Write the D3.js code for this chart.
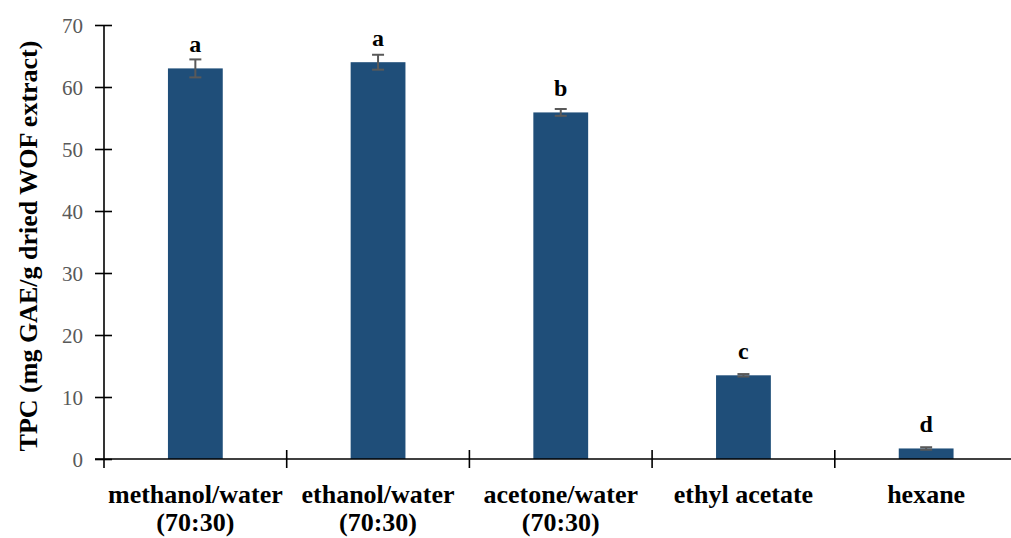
<!DOCTYPE html>
<html>
<head>
<meta charset="utf-8">
<script src="https://cdn.jsdelivr.net/npm/d3@7"></script>
<style>
  html, body { margin: 0; padding: 0; background: #fff; }
  svg { display: block; }
</style>
</head>
<body>
<svg id="chart" width="1011" height="538"></svg>
<script>
// Total phenolic content by extraction solvent
const solvents = ["methanol/water|(70:30)", "ethanol/water|(70:30)", "acetone/water|(70:30)", "ethyl acetate", "hexane"];
const tpc = [63.0, 64.0, 55.9, 13.5, 1.7];
const tpcSd = [1.45, 1.2, 0.55, 0.2, 0.2];
const groups = ["a", "a", "b", "c", "d"];
const yTicks = [0, 10, 20, 30, 40, 50, 60, 70];

(function draw() {
  const svg = d3.select("#chart");
  const plotLeft = 104, plotRight = 1017.5, plotTop = 25, plotBottom = 459;
  const serif = "'Liberation Serif', 'Times New Roman', serif";

  const x = d3.scaleBand().domain(solvents).range([plotLeft, plotRight]).paddingInner(0).paddingOuter(0);
  const y = d3.scaleLinear().domain([0, 70]).range([plotBottom, plotTop]);
  const barW = x.bandwidth() * 0.30;

  // Bars
  svg.append("g").selectAll("rect").data(solvents).join("rect")
    .attr("x", d => x(d) + (x.bandwidth() - barW) / 2)
    .attr("y", (d, i) => y(tpc[i]))
    .attr("width", barW)
    .attr("height", (d, i) => y(0) - y(tpc[i]))
    .attr("fill", "#1F4E79");

  // Error bars
  const err = svg.append("g").attr("stroke", "#595959").attr("stroke-width", 2);
  solvents.forEach((d, i) => {
    const cx = x(d) + x.bandwidth() / 2;
    const y1 = y(tpc[i] + tpcSd[i]), y2 = y(tpc[i] - tpcSd[i]);
    err.append("line").attr("x1", cx).attr("x2", cx).attr("y1", y1).attr("y2", y2);
    err.append("line").attr("x1", cx - 6).attr("x2", cx + 6).attr("y1", y1).attr("y2", y1);
    err.append("line").attr("x1", cx - 6).attr("x2", cx + 6).attr("y1", y2).attr("y2", y2);
  });

  // Significance letters
  svg.append("g").selectAll("text").data(solvents).join("text")
    .attr("x", d => x(d) + x.bandwidth() / 2)
    .attr("y", (d, i) => y(tpc[i]) - 16)
    .attr("text-anchor", "middle")
    .attr("font-family", serif).attr("font-weight", "bold").attr("font-size", 24)
    .attr("fill", "#000")
    .text((d, i) => groups[i]);

  // Y axis
  const yAxis = svg.append("g").attr("transform", `translate(${plotLeft},0)`)
    .call(d3.axisLeft(y).tickValues(yTicks).tickSize(0).tickPadding(0).tickFormat(d3.format("d")));
  yAxis.select(".domain").remove();
  yAxis.selectAll(".tick line").attr("x1", -9).attr("x2", 8).attr("stroke", "#000").attr("stroke-width", 1.6);
  yAxis.selectAll(".tick text")
    .attr("x", -21).attr("dy", "0.34em")
    .attr("font-family", serif).attr("font-size", 21).attr("fill", "#595959");
  svg.append("line").attr("x1", plotLeft).attr("x2", plotLeft).attr("y1", plotTop).attr("y2", plotBottom + 9)
    .attr("stroke", "#000").attr("stroke-width", 1.6);

  // X axis
  const xAxis = svg.append("g").attr("transform", `translate(0,${plotBottom})`)
    .call(d3.axisBottom(x).tickSize(0).tickFormat(""));
  xAxis.select(".domain").remove();
  svg.append("line").attr("x1", plotLeft - 9).attr("x2", plotRight).attr("y1", plotBottom).attr("y2", plotBottom)
    .attr("stroke", "#000").attr("stroke-width", 1.6);
  svg.append("g").selectAll("line").data(solvents.slice(1)).join("line")
    .attr("x1", d => x(d)).attr("x2", d => x(d))
    .attr("y1", plotBottom - 9).attr("y2", plotBottom + 9)
    .attr("stroke", "#000").attr("stroke-width", 1.6);

  // Category labels (two lines where the ratio is given)
  const lab = svg.append("g").selectAll("text").data(solvents).join("text")
    .attr("text-anchor", "middle")
    .attr("font-family", serif).attr("font-weight", "bold").attr("font-size", 26)
    .attr("fill", "#000");
  lab.each(function(d) {
    const parts = d.split("|");
    const cx = x(d) + x.bandwidth() / 2;
    parts.forEach((p, j) => {
      d3.select(this).append("tspan").attr("x", cx).attr("y", 503 + j * 28).text(p);
    });
  });

  // Y axis title
  svg.append("text")
    .attr("transform", `translate(37,${(plotTop + plotBottom) / 2 + 4}) rotate(-90)`)
    .attr("text-anchor", "middle")
    .attr("font-family", serif).attr("font-weight", "bold").attr("font-size", 26)
    .attr("fill", "#000")
    .text("TPC (mg GAE/g dried WOF extract)");
})();
</script>
</body>
</html>
